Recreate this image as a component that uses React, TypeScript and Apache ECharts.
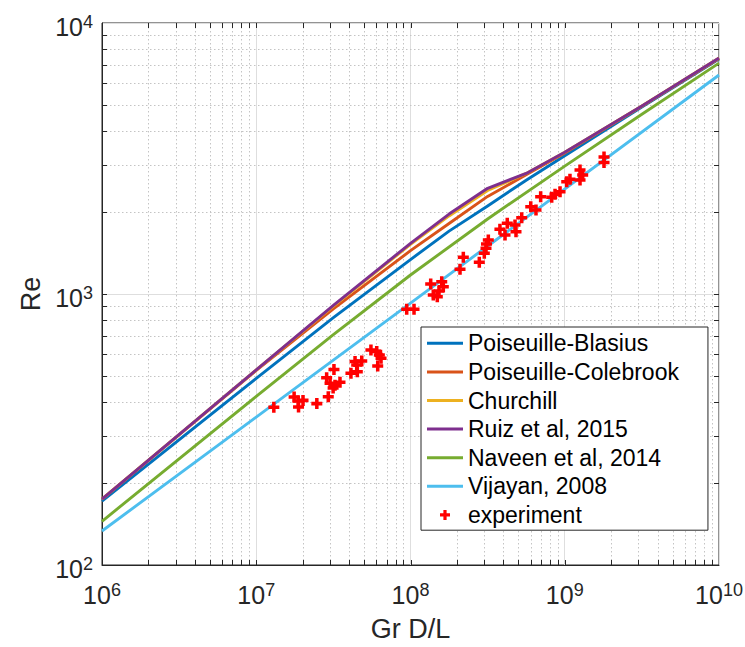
import React, { useEffect, useRef } from 'react';
import * as echarts from 'echarts';

// ---- data ----
const curveGr = [1e6, 1e7, 3.162e7, 1e8, 1.778e8, 3.162e8, 5.623e8, 1e9, 3.162e9, 1e10];
const poiseuilleBlasius = [172, 488, 818, 1340, 1706, 2113, 2630, 3236, 4898, 7362];
const poiseuilleColebrook = [175, 522, 881, 1445, 1820, 2291, 2754, 3311, 4932, 7396];
const churchill = [175, 525, 903, 1524, 1941, 2410, 2786, 3334, 4943, 7430];
const ruiz2015 = [175, 525, 908, 1538, 1972, 2455, 2786, 3334, 4943, 7430];
const naveenGr = [1e6, 1e7, 3.162e7, 1e8, 3.162e8, 1e9, 3.162e9, 1e10];
const naveen2014 = [145, 419, 708, 1175, 1892, 2965, 4603, 7112];
const vijayanGr = [1e6, 1e8, 1e10];
const vijayan2008 = [133.5, 925, 6430];

const expGr = [
  1.3e7, 1.76e7, 1.87e7, 2.01e7, 1.88e7, 2.47e7, 2.93e7, 2.86e7, 3.19e7, 3.01e7,
  3.24e7, 3.49e7, 3.15e7, 4.11e7, 4.52e7, 4.48e7, 4.83e7, 4.37e7, 5.54e7, 6.04e7,
  6.28e7, 6.44e7, 6.13e7, 9.45e7, 1.054e8, 1.352e8, 1.405e8, 1.492e8, 1.594e8, 1.632e8,
  1.53e8, 2.094e8, 2.2e8, 2.793e8, 3.009e8, 3.087e8, 3.195e8, 3.11e8, 3.8e8, 4.1e8,
  4.24e8, 4.76e8, 4.83e8, 5.26e8, 6.02e8, 6.51e8, 6.98e8, 8.23e8, 8.65e8, 9.32e8,
  1.03e9, 1.081e9, 1.256e9, 1.307e9, 1.256e9, 1.797e9, 1.797e9,
];
const expRe = [
  382, 417, 403, 405, 383, 394, 418, 491, 527, 468,
  461, 472, 450, 510, 517, 547, 566, 563, 621, 613,
  596, 579, 542, 878, 878, 1089, 992, 977, 1110, 1064,
  1026, 1234, 1366, 1309, 1413, 1475, 1582, 1530, 1733, 1651,
  1823, 1797, 1698, 1912, 2099, 2042, 2286, 2275, 2334, 2386,
  2597, 2651, 2868, 2749, 2634, 3203, 3057,
];

// axis structure
const xDecades = [1e6, 1e7, 1e8, 1e9];
const yDecades = [1e2, 1e3];
const minorMultipliers = [2, 3, 4, 5, 6, 7, 8, 9];
const xMajorInner = [1e7, 1e8, 1e9];
const yMajorInner = [1e3];

const seriesNames = [
  'Poiseuille-Blasius',
  'Poiseuille-Colebrook',
  'Churchill',
  'Ruiz et al, 2015',
  'Naveen et al, 2014',
  'Vijayan, 2008',
  'experiment',
];
const colors = ['#0072BD', '#D95319', '#EDB120', '#7E2F8E', '#77AC30', '#4DBEEE', '#FF0000'];

const FONT = "'Liberation Sans', Arial, Helvetica, sans-serif";
const AXIS_COLOR = '#262626';
const PLUS = 'path://M3.4,0H6.6V3.4H10V6.6H6.6V10H3.4V6.6H0V3.4H3.4Z';
const LINE_ICON = 'path://M0,0H36V3H0Z';

export default function App() {
  const ref = useRef<HTMLDivElement>(null);

  useEffect(() => {
    if (!ref.current) return;
    const chart = echarts.init(ref.current, undefined, { renderer: 'svg' });

    const zip = (xs: number[], ys: number[]) => xs.map((x, i) => [x, ys[i]]);

    const gridItems: number[][] = [];
    xDecades.forEach((d) => minorMultipliers.forEach((m) => gridItems.push([d * m, 1e2, 0])));
    yDecades.forEach((d) => minorMultipliers.forEach((m) => gridItems.push([1e6, d * m, 1])));
    xMajorInner.forEach((v) => gridItems.push([v, 1e2, 2]));
    yMajorInner.forEach((v) => gridItems.push([1e6, v, 3]));

    const TICK = 5;
    const richLabel = {
      b: { fontSize: 25, fontFamily: FONT, color: AXIS_COLOR, lineHeight: 28, verticalAlign: 'middle' },
      s: { fontSize: 18, fontFamily: FONT, color: AXIS_COLOR, lineHeight: 17, verticalAlign: 'top' },
    };
    const fmt = (v: number) => `{b|10}{s|${Math.round(Math.log10(v))}}`;

    const lineSeries = (name: string, xs: number[], ys: number[], color: string) => ({
      name,
      type: 'line',
      data: zip(xs, ys),
      symbol: 'none',
      showSymbol: false,
      smooth: false,
      lineStyle: { color, width: 2.9, join: 'round' },
      itemStyle: { color },
      z: 3,
    });

    const option: any = {
      animation: false,
      backgroundColor: '#ffffff',
      grid: {
        left: 102,
        top: 23,
        width: 617,
        height: 542,
        show: true,
        borderColor: AXIS_COLOR,
        borderWidth: 1,
        backgroundColor: '#ffffff',
        containLabel: false,
        outerBoundsMode: 'none',
      },
      xAxis: {
        type: 'log',
        logBase: 10,
        min: 1e6,
        max: 1e10,
        name: 'Gr D/L',
        nameLocation: 'middle',
        nameGap: 50,
        nameTextStyle: { fontSize: 27, fontFamily: FONT, color: AXIS_COLOR, lineHeight: 27 },
        axisLine: { show: true, lineStyle: { color: AXIS_COLOR, width: 1 } },
        axisTick: { show: false },
        axisLabel: { formatter: fmt, rich: richLabel, margin: 16 },
        splitLine: { show: true, lineStyle: { color: '#dedede', width: 1 } },
      },
      yAxis: {
        type: 'log',
        logBase: 10,
        min: 1e2,
        max: 1e4,
        name: 'Re',
        nameLocation: 'middle',
        nameGap: 54,
        nameTextStyle: { fontSize: 27, fontFamily: FONT, color: AXIS_COLOR, lineHeight: 27 },
        axisLine: { show: true, lineStyle: { color: AXIS_COLOR, width: 1 } },
        axisTick: { show: false },
        axisLabel: { formatter: fmt, rich: richLabel, margin: 9, padding: [8, 0, 0, 0] },
        splitLine: { show: true, lineStyle: { color: '#dedede', width: 1 } },
      },
      legend: {
        orient: 'vertical',
        left: 421,
        top: 327,
        padding: [2, 29, 1, 6],
        itemGap: 0,
        itemWidth: 36,
        itemHeight: 10,
        backgroundColor: '#ffffff',
        borderColor: AXIS_COLOR,
        borderWidth: 1,
        borderRadius: 0,
        textStyle: { fontFamily: FONT, fontSize: 23, color: '#000000', lineHeight: 28.6 },
        data: seriesNames.map((n, i) =>
          i === 6
            ? { name: n, icon: PLUS, itemStyle: { color: colors[i] } }
            : { name: n, icon: LINE_ICON, itemStyle: { color: colors[i] } }
        ),
      },
      series: [
        {
          type: 'custom',
          name: 'gridMinor',
          silent: true,
          z: 1,
          data: gridItems,
          encode: { x: 0, y: 1 },
          renderItem: (params: any, api: any) => {
            const cs = params.coordSys;
            const kind = api.value(2);
            const pt = api.coord([api.value(0), api.value(1)]);
            const children: any[] = [];
            const tickStyle = { stroke: AXIS_COLOR, lineWidth: 1 };
            const dotStyle = { stroke: '#c4c4c4', lineWidth: 1, lineDash: [1.5, 2.5] };
            if (kind === 0 || kind === 2) {
              const px = Math.round(pt[0]) + 0.5;
              if (kind === 0)
                children.push({ type: 'line', shape: { x1: px, y1: cs.y, x2: px, y2: cs.y + cs.height }, style: dotStyle });
              children.push({ type: 'line', shape: { x1: px, y1: cs.y + cs.height, x2: px, y2: cs.y + cs.height - TICK }, style: tickStyle });
              children.push({ type: 'line', shape: { x1: px, y1: cs.y, x2: px, y2: cs.y + TICK }, style: tickStyle });
            } else {
              const py = Math.round(pt[1]) + 0.5;
              if (kind === 1)
                children.push({ type: 'line', shape: { x1: cs.x, y1: py, x2: cs.x + cs.width, y2: py }, style: dotStyle });
              children.push({ type: 'line', shape: { x1: cs.x, y1: py, x2: cs.x + TICK, y2: py }, style: tickStyle });
              children.push({ type: 'line', shape: { x1: cs.x + cs.width, y1: py, x2: cs.x + cs.width - TICK, y2: py }, style: tickStyle });
            }
            return { type: 'group', children };
          },
        },
        lineSeries(seriesNames[0], curveGr, poiseuilleBlasius, colors[0]),
        lineSeries(seriesNames[1], curveGr, poiseuilleColebrook, colors[1]),
        lineSeries(seriesNames[2], curveGr, churchill, colors[2]),
        lineSeries(seriesNames[3], curveGr, ruiz2015, colors[3]),
        lineSeries(seriesNames[4], naveenGr, naveen2014, colors[4]),
        lineSeries(seriesNames[5], vijayanGr, vijayan2008, colors[5]),
        {
          name: seriesNames[6],
          type: 'scatter',
          data: zip(expGr, expRe),
          symbol: PLUS,
          symbolSize: 11,
          itemStyle: { color: colors[6], opacity: 1 },
          z: 4,
        },
      ],
    };

    chart.setOption(option);
    return () => chart.dispose();
  }, []);

  return (
    <div
      ref={ref}
      style={{ position: 'absolute', left: 0, top: 0, width: 745, height: 647, background: '#fff' }}
    />
  );
}
